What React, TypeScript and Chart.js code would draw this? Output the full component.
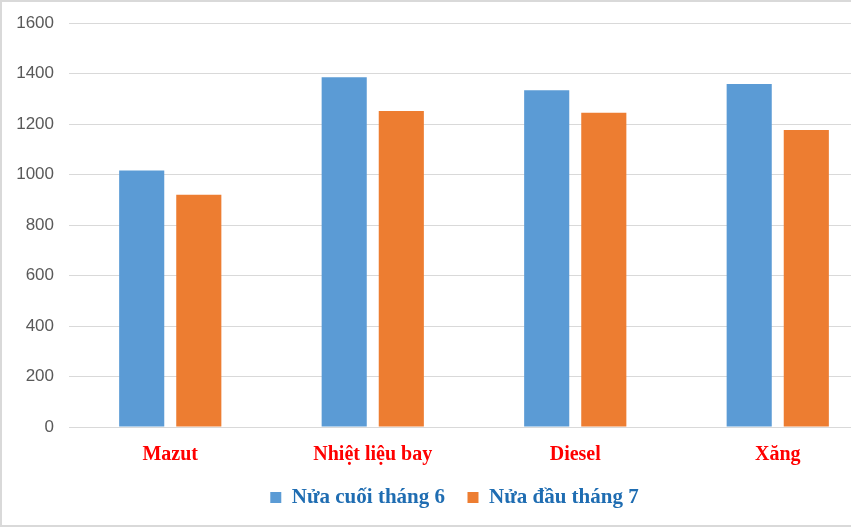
import React, { useEffect, useRef } from "react";
import { Chart, registerables } from "chart.js";

Chart.register(...registerables);

const categories = ["Mazut", "Nhiệt liệu bay", "Diesel", "Xăng"];
const lateJune = [1016, 1385, 1334, 1358];
const earlyJuly = [920, 1251, 1245, 1176];
const seriesNames = ["Nửa cuối tháng 6", "Nửa đầu tháng 7"];
const yTicks = [0, 200, 400, 600, 800, 1000, 1200, 1400, 1600];

const legendShift = {
  id: "legendShift",
  afterLayout(chart: any) {
    const lg = chart.legend;
    if (lg) {
      lg.left += 14;
      lg.right += 14;
    }
  },
};

export default function App() {
  const ref = useRef<HTMLCanvasElement | null>(null);

  useEffect(() => {
    if (!ref.current) return;
    const chart = new Chart(ref.current, {
      type: "bar",
      data: {
        labels: categories,
        datasets: [
          {
            label: seriesNames[0],
            data: lateJune,
            backgroundColor: "#5B9BD5",
            barPercentage: 0.79,
            categoryPercentage: 0.564,
          },
          {
            label: seriesNames[1],
            data: earlyJuly,
            backgroundColor: "#ED7D31",
            barPercentage: 0.79,
            categoryPercentage: 0.564,
          },
        ],
      },
      plugins: [legendShift],
      options: {
        responsive: false,
        animation: false,
        events: [],
        layout: { padding: { top: 21, right: 3, left: 0, bottom: 7 } },
        plugins: {
          tooltip: { enabled: false },
          legend: {
            position: "bottom",
            align: "center",
            labels: {
              boxWidth: 11,
              boxHeight: 11,
              padding: 12,
              color: "#1F6DB2",
              font: { family: "'Liberation Serif', 'Times New Roman', serif", size: 21, weight: "bold" },
              generateLabels: (chart: any) => {
                const items = Chart.defaults.plugins.legend.labels.generateLabels(chart);
                return items.map((it: any, i: number) =>
                  i < items.length - 1 ? { ...it, text: it.text + "\u2002" } : it
                );
              },
            },
          },
        },
        scales: {
          x: {
            grid: { display: false },
            border: { display: true, color: "#D9D9D9", width: 1 },
            ticks: {
              color: "#FF0000",
              padding: 8,
              font: { family: "'Liberation Serif', 'Times New Roman', serif", size: 20, weight: "bold" },
            },
          },
          y: {
            min: 0,
            max: 1600,
            afterBuildTicks: (scale: any) => {
              scale.ticks = yTicks.map((v) => ({ value: v }));
            },
            afterFit: (scale: any) => {
              scale.width = 67;
              scale.paddingTop = 0;
              scale.paddingBottom = 0;
            },
            grid: { color: "#D9D9D9", drawTicks: false },
            border: { display: false },
            ticks: {
              color: "#595959",
              padding: 15,
              font: { family: "'Liberation Sans', Arial, sans-serif", size: 17 },
              callback: (v: any) => String(v),
            },
          },
        },
      },
    });
    return () => chart.destroy();
  }, []);

  return (
    <div
      style={{
        position: "fixed",
        left: 0,
        top: 0,
        width: 851,
        height: 527,
        boxSizing: "border-box",
        borderLeft: "2px solid #D9D9D9",
        borderTop: "2px solid #D9D9D9",
        borderBottom: "2px solid #D9D9D9",
        overflow: "hidden",
        background: "#fff",
      }}
    >
      <canvas ref={ref} width={880} height={523} style={{ width: 880, height: 523, display: "block" }} />
    </div>
  );
}
